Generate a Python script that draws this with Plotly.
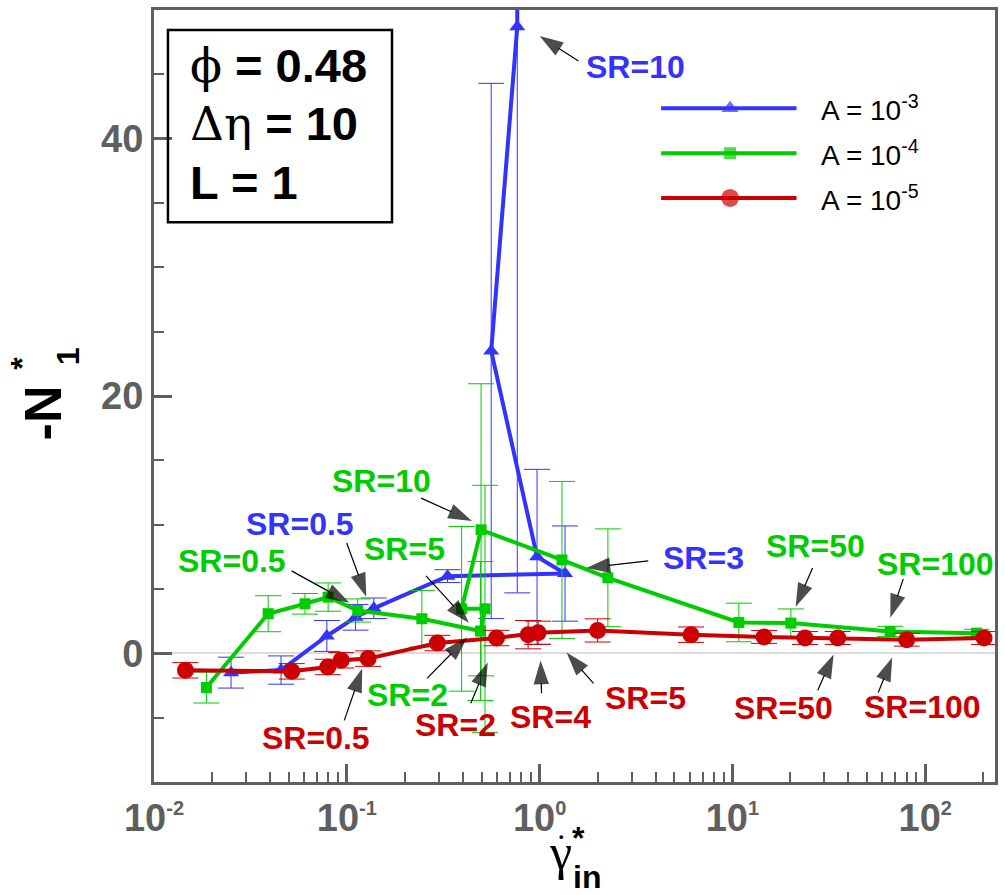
import plotly.graph_objects as go

# ---- data: first normal stress difference vs. inlet shear rate ----
# A = 1e-3 (blue, triangles)
x_a3 = [0.0251, 0.0456, 0.0788, 0.111, 0.138, 0.333, 1.355, 0.97, 0.561, 0.766, 0.76]
y_a3 = [-1.5, -1.3, 1.35, 2.8, 3.5, 6.0, 6.2, 7.5, 23.5, 48.7, 70.0]
e_a3 = [1.2, 1.1, 1.2, 1.0, 0.8, 0.5, 3.7, 6.8, 20.8, 44.0, 0.0]

# A = 1e-4 (green, squares)
x_a4 = [0.0187, 0.0391, 0.0607, 0.080, 0.114, 0.245, 0.494, 0.521, 0.394, 0.497,
        1.306, 2.26, 10.8, 20.1, 65.8, 184.5]
y_a4 = [-2.66, 3.08, 3.85, 4.37, 3.33, 2.69, 1.73, 3.46, 3.46, 9.6,
        7.26, 5.87, 2.4, 2.35, 1.7, 1.57]
e_a4 = [1.2, 1.4, 0.8, 1.1, 0.9, 2.2, 5.4, 9.6, 6.4, 11.35,
        6.1, 3.8, 1.5, 1.1, 0.4, 0.3]

# A = 1e-5 (red, circles)
x_a5 = [0.01456, 0.0518, 0.0797, 0.0935, 0.129, 0.295, 0.598, 0.872, 0.982, 2.0,
        6.1, 14.6, 23.8, 35.2, 80.2, 202.0]
y_a5 = [-1.32, -1.4, -1.06, -0.54, -0.41, 0.8, 1.19, 1.45, 1.6, 1.78,
        1.45, 1.27, 1.19, 1.19, 1.06, 1.19]
e_a5 = [0.6, 0.6, 0.6, 0.6, 0.6, 0.6, 0.6, 1.1, 0.9, 0.9,
        0.6, 0.5, 0.5, 0.5, 0.5, 0.5]

series_names = ["A = 10<sup>-3</sup>", "A = 10<sup>-4</sup>", "A = 10<sup>-5</sup>"]
series_colors = ["#3333ff", "#00cc00", "#cc0000"]
series_symbols = ["triangle-up", "square", "circle"]
series_sizes = [14, 11, 17]

x_tick_vals = [0.01, 0.1, 1, 10, 100]
x_tick_exps = ["-2", "-1", "0", "1", "2"]
y_tick_vals = [0, 20, 40]

# SR call-outs: text, colour index, arrow tail (log10 x, y), arrow tip (log10 x, y),
# text centre (log10 x, y)
sr_labels = [
    ("SR=10", 0, (0.2016, 46.04), (0.0, 47.97), (0.496, 45.6)),
    ("SR=0.5", 0, (-1.0006, 8.58), (-0.899, 4.40), (-1.245, 10.05)),
    ("SR=3", 0, (0.5634, 7.18), (0.243, 6.64), (0.848, 7.42)),
    ("SR=10", 1, (-0.6146, 12.06), (-0.351, 10.28), (-0.822, 13.38)),
    ("SR=0.5", 1, (-1.2867, 6.41), (-0.987, 3.93), (-1.597, 7.18)),
    ("SR=5", 1, (-0.5892, 6.02), (-0.367, 2.38), (-0.703, 8.11)),
    ("SR=2", 1, (-0.5837, -1.95), (-0.377, 1.22), (-0.687, -3.24)),
    ("SR=50", 1, (1.4159, 6.64), (1.328, 3.62), (1.432, 8.35)),
    ("SR=100", 1, (1.8862, 5.79), (1.819, 2.77), (2.052, 6.95)),
    ("SR=0.5", 2, (-1.013, -5.21), (-0.920, -1.18), (-1.158, -6.6)),
    ("SR=2", 2, (-0.3569, -3.88), (-0.269, -0.71), (-0.434, -5.6)),
    ("SR=4", 2, (0.0102, -3.11), (0.005, -0.56), (0.057, -4.96)),
    ("SR=5", 2, (0.2795, -2.34), (0.140, 0.06), (0.548, -3.44)),
    ("SR=50", 2, (1.4423, -2.88), (1.525, -0.09), (1.266, -4.26)),
    ("SR=100", 2, (1.7566, -3.04), (1.829, -0.33), (1.984, -4.2)),
]

SANS = "Liberation Sans, Arial, sans-serif"
SERIF = "Liberation Serif, DejaVu Serif, serif"
AXIS_GREY = "#5f5f5f"

fig = go.Figure()

for xs, ys, es, name, col, sym, sz in zip(
        [x_a3, x_a4, x_a5], [y_a3, y_a4, y_a5], [e_a3, e_a4, e_a5],
        series_names, series_colors, series_symbols, series_sizes):
    fig.add_trace(go.Scatter(
        x=xs, y=ys, mode="lines+markers", name=name, showlegend=False,
        line=dict(color=col, width=4),
        marker=dict(symbol=sym, size=sz, color=col, line=dict(width=0)),
        error_y=dict(type="data", array=es, visible=True, color=col,
                     thickness=1, width=13),
    ))

# call-out arrows: thin black shaft with a narrow filled head at the tip
for text, ci, tail, tip, pos in sr_labels:
    fig.add_trace(go.Scatter(
        x=[10 ** tail[0], 10 ** tip[0]], y=[tail[1], tip[1]],
        mode="lines+markers", showlegend=False, hoverinfo="skip",
        line=dict(color="black", width=1.2),
        marker=dict(symbol="arrow", angleref="previous", size=[0, 25],
                    color="black", line=dict(width=0)),
    ))

# hand-built legend on an overlay axis spanning the plot area (0..1)
leg_rows = [0.8726, 0.8145, 0.7565]
for row, name, col, sym, sz in zip(leg_rows, series_names, series_colors,
                                   series_symbols, series_sizes):
    fig.add_trace(go.Scatter(
        x=[0.603, 0.685, 0.764], y=[row, row, row], mode="lines+markers",
        xaxis="x2", yaxis="y2", showlegend=False, hoverinfo="skip",
        line=dict(color=col, width=4),
        marker=dict(symbol=sym, size=[0, sz + 1, 0], color=col, line=dict(width=0)),
    ))

annotations = []
for text, ci, tail, tip, pos in sr_labels:
    annotations.append(dict(
        x=pos[0], y=pos[1], xref="x", yref="y", text=text, showarrow=False,
        xanchor="center", yanchor="middle",
        font=dict(family=SANS, size=32, color=series_colors[ci], weight="bold")))

# legend labels
for row, name in zip(leg_rows, series_names):
    annotations.append(dict(
        x=0.791, y=row, xref="x2", yref="y2", text=name, showarrow=False,
        xanchor="left", yanchor="middle",
        font=dict(family=SANS, size=28, color="black")))

# parameter box text
sym_style = "font-family:DejaVu Serif;font-weight:normal"
box_lines = [
    (f"<span style='{sym_style}'>ϕ</span> = 0.48", 0.928),
    (f"<span style='{sym_style}'>Δη</span> = 10", 0.853),
    ("L = 1", 0.776),
]
for txt, yy in box_lines:
    annotations.append(dict(
        x=0.040, y=yy, xref="paper", yref="paper", text=txt, showarrow=False,
        xanchor="left", yanchor="middle",
        font=dict(family=SANS, size=47, color="black", weight="bold")))


def title_piece(x, y, text, size, angle=0, family=SANS, weight="bold"):
    return dict(x=x, y=y, xref="paper", yref="paper", text=text, textangle=angle,
                showarrow=False, xanchor="center", yanchor="middle",
                font=dict(family=family, size=size, color="black", weight=weight))


# y-axis title: -N*_1 (stacked super/subscript)
annotations += [
    title_piece(-0.1315, 0.478, "-N", 52, -90),
    title_piece(-0.157, 0.543, "*", 32, -90),
    title_piece(-0.1019, 0.552, "1", 32, -90),
]
# x-axis title: gamma-dot*_in
annotations += [
    title_piece(0.4834, -0.0903, "γ", 50, family=SERIF, weight="normal"),
    title_piece(0.4846, -0.071, "•", 13),
    title_piece(0.5047, -0.0723, "*", 32),
    title_piece(0.5154, -0.1226, "in", 32),
]

x_minor = [k * 10.0 ** e for e in range(-2, 3) for k in range(2, 10)]

fig.update_layout(
    width=1005, height=895, autosize=False,
    margin=dict(l=154, r=7, t=7, b=113, pad=0),
    paper_bgcolor="white", plot_bgcolor="white",
    showlegend=False,
    xaxis=dict(
        type="log", range=[-2, 2.362], showgrid=False, zeroline=False,
        showline=True, linecolor=AXIS_GREY, linewidth=3, mirror=True,
        ticks="inside", ticklen=18, tickwidth=3, tickcolor=AXIS_GREY,
        tickvals=x_tick_vals,
        ticktext=[f"10<sup><span style='font-size:20px'>{e}</span></sup>" for e in x_tick_exps],
        tickfont=dict(family=SANS, size=38, color=AXIS_GREY, weight="bold"),
        minor=dict(tickvals=x_minor, ticks="inside", ticklen=10, tickwidth=1.5,
                   tickcolor=AXIS_GREY, showgrid=False),
    ),
    yaxis=dict(
        range=[-10, 50], showgrid=False,
        zeroline=True, zerolinecolor="#dcdcdc", zerolinewidth=2,
        showline=True, linecolor=AXIS_GREY, linewidth=3, mirror=True,
        ticks="inside", ticklen=18, tickwidth=3, tickcolor=AXIS_GREY,
        tickvals=y_tick_vals,
        tickfont=dict(family=SANS, size=38, color=AXIS_GREY, weight="bold"),
        minor=dict(dtick=5, tick0=0, ticks="inside", ticklen=10, tickwidth=1.5,
                   tickcolor=AXIS_GREY, showgrid=False),
    ),
    xaxis2=dict(range=[0, 1], overlaying="x", visible=False, anchor="y2"),
    yaxis2=dict(range=[0, 1], overlaying="y", visible=False, anchor="x2"),
    annotations=annotations,
    shapes=[dict(type="rect", xref="paper", yref="paper",
                 x0=0.0166, x1=0.283, y0=0.725, y1=0.974,
                 line=dict(color="black", width=2.5), fillcolor="rgba(0,0,0,0)")],
)

fig.write_html("out.html")
